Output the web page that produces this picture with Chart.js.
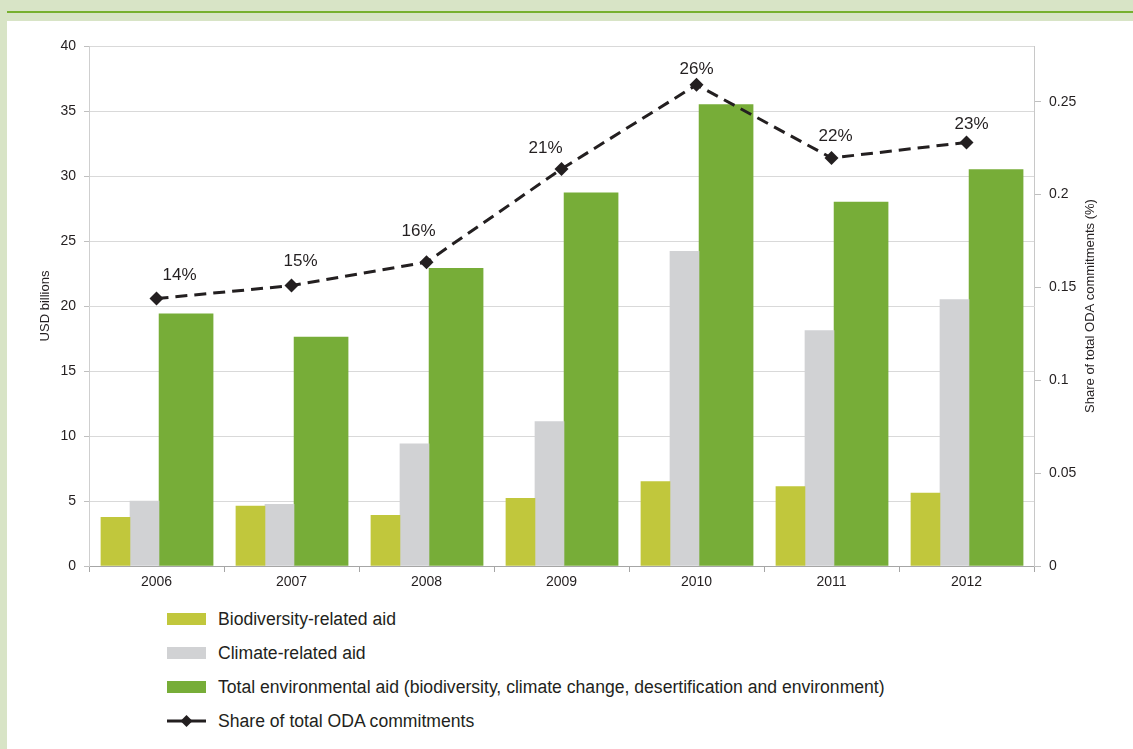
<!DOCTYPE html>
<html>
<head>
<meta charset="utf-8">
<script src="https://cdn.jsdelivr.net/npm/chart.js@4.4.1/dist/chart.umd.min.js"></script>
<style>
  body { margin: 0; width: 1133px; height: 749px; background: #d8e4c6; position: relative; overflow: hidden;
         font-family: 'Liberation Sans', Arial, sans-serif; }
  #rule { position: absolute; left: 7px; right: 0; top: 11px; height: 2px; background: #77b02f; }
  #panel { position: absolute; left: 7px; top: 21px; right: 0; bottom: 0; background: #fff; }
  #wrap { position: absolute; left: 7px; top: 21px; width: 1126px; height: 575px; }
  #legend { position: absolute; left: 167px; top: 602px; }
  .row { display: flex; align-items: center; height: 34px; font-size: 17.6px; color: #231f20; }
  .sw { width: 39px; height: 12px; margin-right: 12px; flex: none; }
</style>
</head>
<body>
<div id="rule"></div>
<div id="panel"></div>
<div id="wrap"><canvas id="myChart"></canvas></div>
<div id="legend"></div>

<script>
// data
const years = ['2006', '2007', '2008', '2009', '2010', '2011', '2012'];
const biodiversityAid = [3.75, 4.6, 3.9, 5.2, 6.5, 6.1, 5.6];
const climateAid = [5.0, 4.75, 9.4, 11.1, 24.2, 18.1, 20.5];
const totalEnvAid = [19.4, 17.6, 22.9, 28.7, 35.5, 28.0, 30.5];
const odaShare = [0.144, 0.151, 0.1636, 0.2138, 0.2591, 0.2197, 0.2281];

const leftMax = 40;
const leftStep = 5;
const rightMax = 0.28;
const rightStep = 0.05;

const font = "'Liberation Sans', Arial, sans-serif";
const ink = '#231f20';

// bars sit off-centre in each year slot, so each bar series gets its own hidden linear x axis
function shiftedAxis(shift) {
  return {
    type: 'linear',
    display: false,
    offset: false,
    bounds: 'data',
    grid: { offset: false },
    min: Number(years[0]) - 0.5 - shift,
    max: Number(years[years.length - 1]) + 0.5 - shift
  };
}

function points(values) {
  return years.map((y, i) => ({ x: Number(y), y: values[i] }));
}

// percent labels above the markers + right axis title (reads bottom to top)
const shareLabels = {
  id: 'shareLabels',
  afterDatasetsDraw(chart, args, opts) {
    const ctx = chart.ctx;
    const meta = chart.getDatasetMeta(3);
    ctx.save();
    ctx.font = '17px ' + font;
    ctx.fillStyle = ink;
    ctx.textAlign = 'center';
    ctx.textBaseline = 'middle';
    meta.data.forEach((pt, i) => {
      const v = chart.data.datasets[3].data[i];
      const n = opts.nudge[i];
      ctx.fillText(Math.round(v * 100) + '%', pt.x + n[0], pt.y + n[1]);
    });
    const y2 = chart.scales.y2;
    ctx.translate(y2.left + 56, (y2.top + y2.bottom) / 2);
    ctx.rotate(-Math.PI / 2);
    ctx.font = '13px ' + font;
    ctx.fillText('Share of total ODA commitments (%)', 0, 0);
    ctx.restore();
  }
};

var myChart = new Chart(document.getElementById('myChart').getContext('2d'), {
  data: {
    labels: years,
    datasets: [
      {
        type: 'bar', label: 'Biodiversity-related aid', data: points(biodiversityAid), grouped: false,
        xAxisID: 'xb', yAxisID: 'y', backgroundColor: '#c1c73c', barThickness: 29, order: 2
      },
      {
        type: 'bar', label: 'Climate-related aid', data: points(climateAid), grouped: false,
        xAxisID: 'xc', yAxisID: 'y', backgroundColor: '#d1d2d4', barThickness: 29, order: 2
      },
      {
        type: 'bar', label: 'Total environmental aid (biodiversity, climate change, desertification and environment)',
        data: points(totalEnvAid), grouped: false,
        xAxisID: 'xt', yAxisID: 'y', backgroundColor: '#77ad38', barThickness: 54, order: 2
      },
      {
        type: 'line', label: 'Share of total ODA commitments', data: odaShare,
        xAxisID: 'x', yAxisID: 'y2', borderColor: ink, borderWidth: 3, borderDash: [12, 7],
        pointStyle: 'rectRot', pointRadius: 7, pointBackgroundColor: ink, pointBorderColor: ink,
        pointBorderWidth: 0, tension: 0, fill: false, order: 0
      }
    ]
  },
  options: {
    responsive: true,
    maintainAspectRatio: false,
    animation: false,
    layout: { padding: { top: 25, left: 0, right: 0, bottom: 0 } },
    plugins: {
      legend: { display: false },
      tooltip: { enabled: false },
      shareLabels: {
        nudge: [[23, -23], [9, -24], [-8, -31], [-16, -21], [0, -16], [4, -22], [5, -18]]
      }
    },
    scales: {
      x: {
        type: 'category',
        offset: true,
        grid: { offset: true, drawOnChartArea: false, tickLength: 6, color: '#a6a6a6' },
        border: { color: '#a6a6a6' },
        ticks: { color: ink, font: { family: font, size: 14 }, padding: 2 },
        afterFit: (axis) => { axis.height = 30; }
      },
      xb: shiftedAxis(-0.304),
      xc: shiftedAxis(-0.089),
      xt: shiftedAxis(0.219),
      y: {
        position: 'left',
        min: 0,
        max: leftMax,
        ticks: { stepSize: leftStep, color: ink, font: { family: font, size: 14 }, padding: 8 },
        grid: { color: '#d9d9d9', tickColor: '#bfbfbf', tickLength: 5 },
        border: { color: '#cfcfcf' },
        title: { display: true, text: 'USD billions', color: ink, font: { family: font, size: 13 }, padding: { top: 31, bottom: 0 } },
        afterFit: (axis) => { axis.width = 82; }
      },
      y2: {
        position: 'right',
        min: 0,
        max: rightMax,
        ticks: {
          stepSize: rightStep, color: ink, font: { family: font, size: 14 }, padding: 8,
          callback: (v) => String(+v.toFixed(2))
        },
        afterBuildTicks: (axis) => {
          axis.ticks = axis.ticks.filter(t => Math.abs(t.value / rightStep - Math.round(t.value / rightStep)) < 1e-6);
        },
        grid: { drawOnChartArea: false, tickColor: '#bfbfbf', tickLength: 7 },
        border: { color: '#c8c8c8' },
        afterFit: (axis) => { axis.width = 99; }
      }
    }
  },
  plugins: [shareLabels]
});

// Generate HTML for the legend from the chart's datasets
var legendHTML = '';
myChart.data.datasets.forEach(function (ds) {
  var swatch;
  if (ds.type === 'line') {
    swatch = '<svg class="sw" style="height:14px" width="39" height="14">' +
      '<line x1="0" y1="7" x2="39" y2="7" stroke="' + ds.borderColor + '" stroke-width="3"/>' +
      '<polygon points="19.5,1 25.5,7 19.5,13 13.5,7" fill="' + ds.borderColor + '"/></svg>';
  } else {
    swatch = '<div class="sw" style="background:' + ds.backgroundColor + '"></div>';
  }
  legendHTML += '<div class="row">' + swatch + '<span>' + ds.label + '</span></div>';
});
document.getElementById('legend').innerHTML = legendHTML;
</script>
</body>
</html>
